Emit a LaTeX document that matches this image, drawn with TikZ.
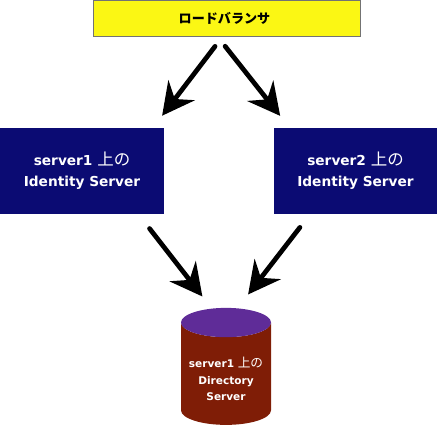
\documentclass[tikz,border=0pt]{standalone}
\usepackage{fontspec}
\setmainfont{DejaVu Sans}
\newfontfamily\cjk[Scale=1.2]{Noto Sans CJK JP}
\usetikzlibrary{arrows.meta,shapes.geometric}
\definecolor{lbyellow}{HTML}{FBF714}
\definecolor{srvblue}{HTML}{0B0B73}
\definecolor{dbred}{HTML}{7F1D06}
\definecolor{dbtop}{HTML}{5F2C98}
\tikzset{
    srvbox/.style={fill=srvblue, text=white, minimum width=3.28cm, minimum height=1.72cm,
        align=center, font=\fontsize{7.8}{12}\selectfont\bfseries},
    bigarrow/.style={-{Stealth[length=0.64cm, width=0.66cm, inset=0.22cm]}, line width=0.095cm, line cap=round}
}

\begin{document}
\begin{tikzpicture}
    \useasboundingbox (0, 0) rectangle (8.74, 8.54);

    % Load balancer
    \node[draw=black!55, line width=0.03cm, fill=lbyellow, minimum width=5.34cm, minimum height=0.72cm] (balancer) at (4.54, 8.17) {};
    \node[font=\fontsize{6.2}{9}\selectfont] (lblabel) at (4.49, 8.17) {\cjk\bfseries ロードバランサ};

    % Identity servers
    \node[srvbox] (server1) at (1.64, 5.12) {server1 {\cjk\mdseries 上の}\\Identity Server};
    \node[srvbox, minimum width=3.26cm] (server2) at (7.11, 5.12) {server2 {\cjk\mdseries 上の}\\Identity Server};

    % Directory server
    \node[cylinder, shape border rotate=90, aspect=2.5, cylinder uses custom fill,
        cylinder body fill=dbred, cylinder end fill=dbtop,
        minimum width=1.8cm, minimum height=2.34cm] (directory) at (4.52, 0.99) {};
    \node[text=white, align=center, font=\fontsize{6}{9.4}\selectfont\bfseries] (dirlabel) at (4.52, 0.96)
        {server1 {\cjk\mdseries 上の}\\Directory\\Server};

    % Arrows
    \draw[bigarrow, shorten <=0.23cm, shorten >=0.3cm] ([xshift=-0.1cm]balancer.south) -- ([xshift=1.42cm]server1.north);
    \draw[bigarrow, shorten <=0.23cm, shorten >=0.3cm] ([xshift=-0.18cm]balancer.south) -- ([xshift=-1.32cm]server2.north);
    \draw[bigarrow, shorten <=0.36cm, shorten >=0.28cm] ([xshift=1.13cm]server1.south) -- ([xshift=-0.3cm]directory.top);
    \draw[bigarrow, shorten <=0.33cm, shorten >=0.33cm] ([xshift=-0.91cm]server2.south) -- ([xshift=0.24cm]directory.top);
\end{tikzpicture}
\end{document}
